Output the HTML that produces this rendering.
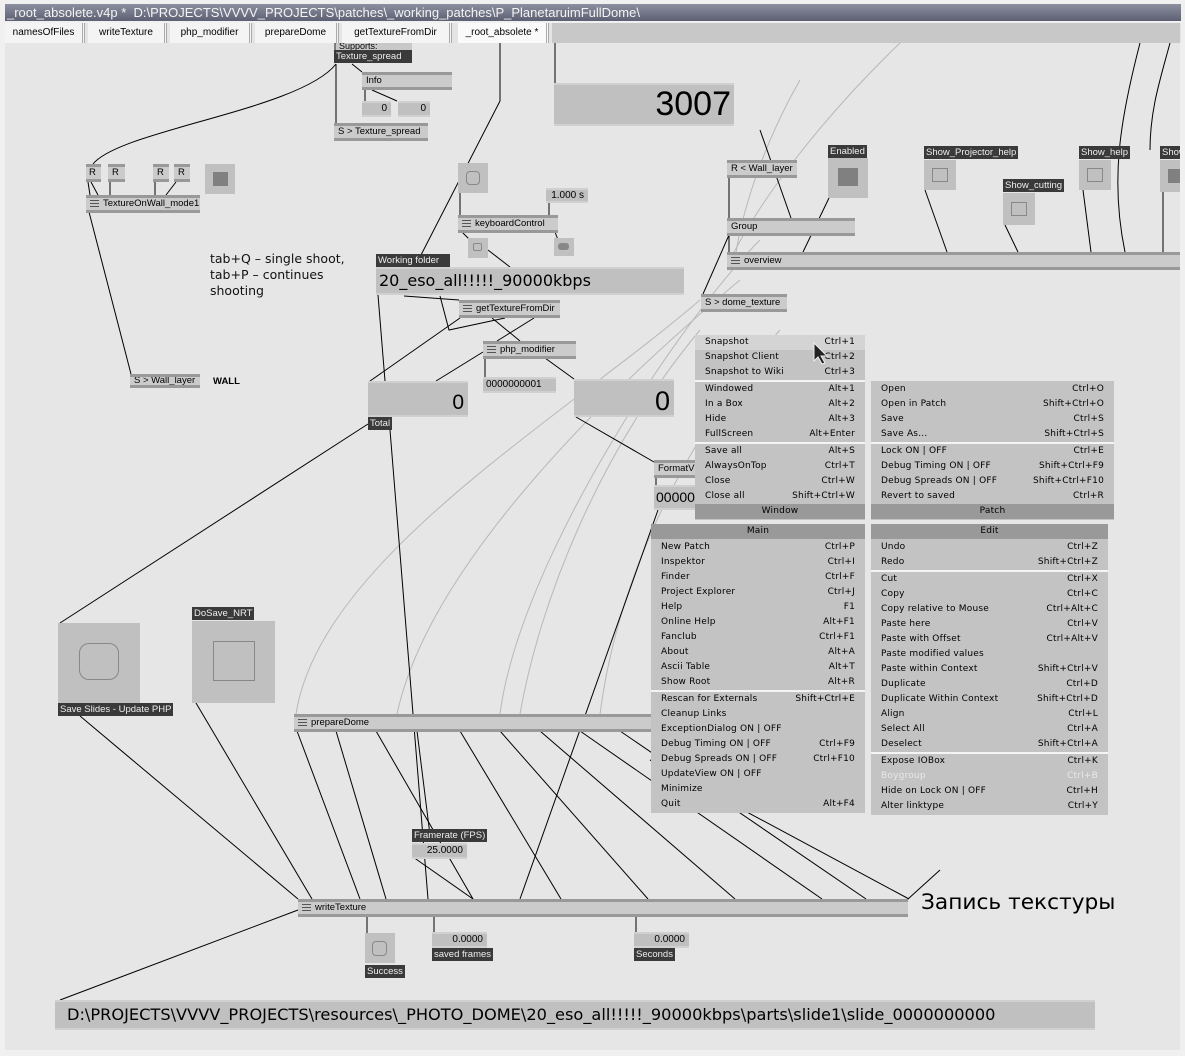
<!DOCTYPE html>
<html><head><meta charset="utf-8">
<style>
*{margin:0;padding:0;box-sizing:border-box}
body{width:1185px;height:1056px;background:#f0f0f0;position:relative;overflow:hidden;font-family:"Liberation Sans","DejaVu Sans",sans-serif;font-size:10px;color:#000}
.a{position:absolute}
#title{left:5px;top:4px;width:1176px;height:17px;background:linear-gradient(#8c8fa0,#5d6072);color:#f4f4f4;font-size:13px;line-height:17px;padding-left:2px;white-space:nowrap}
#tabs{left:5px;top:23px;width:1176px;height:20px;background:#e4e4e4}
.tab{position:absolute;top:23px;height:20px;background:#f4f4f4;font-size:10px;line-height:20px;text-align:center;border-right:3px double #aaa}
#patch{left:5px;top:43px;width:1175px;height:1007px;background:#e6e6e6}
.n{position:absolute;background:#cbcbcb;border-top:3px solid #999;border-bottom:3px solid #999;font-size:9.5px;line-height:11px;padding-left:4px;white-space:nowrap;overflow:hidden}
.n.ic{padding-left:17px}
.n.ic:before{content:"";position:absolute;left:4px;top:2px;width:9px;height:7px;background:linear-gradient(#555 0,#555 1px,transparent 1px,transparent 3px,#555 3px,#555 4px,transparent 4px,transparent 6px,#555 6px,#555 7px)}
.io{position:absolute;background:#c0c0c0;border-top:2px solid #d0d0d0;border-bottom:2px solid #d0d0d0;text-align:right;padding-right:4px;white-space:nowrap;overflow:hidden}
.lb{position:absolute;background:#3a3a3a;color:#eee;font-size:9.5px;line-height:13px;height:13px;padding:0 2px;white-space:nowrap}
.sq{position:absolute;background:#c0c0c0}
.menu{position:absolute;background:#c3c3c3;font-family:"DejaVu Sans",sans-serif;font-size:9px;letter-spacing:.2px}
.r{position:absolute;left:0;right:0;height:15px;line-height:15px;padding:0 10px}
.r span{float:right}
.hd{position:absolute;left:0;right:0;height:15px;line-height:15px;background:#999;text-align:center}
.sep{position:absolute;left:0;right:0;height:2px;background:#f4f4f4}
</style></head><body>
<div id="title" class="a">_root_absolete.v4p *&nbsp; D:\PROJECTS\VVVV_PROJECTS\patches\_working_patches\P_PlanetaruimFullDome\</div>
<div id="tabs" class="a"></div>
<div class="tab" style="left:5px;width:80px">namesOfFiles</div>
<div class="tab" style="left:88px;width:79px">writeTexture</div>
<div class="tab" style="left:170px;width:82px">php_modifier</div>
<div class="tab" style="left:255px;width:84px">prepareDome</div>
<div class="tab" style="left:342px;width:110px">getTextureFromDir</div>
<div class="tab" style="left:458px;width:91px;background:#fafafa">_root_absolete *</div>
<div class="a" style="left:552px;top:23px;width:628px;height:20px;background:#c8c8c8"></div>
<div id="patch" class="a"></div>

<svg class="a" style="left:0;top:0" width="1185" height="1056">
<g fill="none" stroke="#b8b8b8" stroke-width="1">
<path d="M700 300 C560 420 320 560 296 714"/>
<path d="M740 280 C620 380 430 560 397 714"/>
<path d="M760 240 C680 320 520 560 500 714"/>
<path d="M900 43 C820 120 760 200 730 260"/>
<path d="M800 80 C760 150 740 220 735 260"/>
<path d="M700 330 C600 450 540 600 520 714"/>
<path d="M780 330 C700 420 620 560 600 714"/>
</g>
<g fill="none" stroke="#000" stroke-width="1">
<path d="M336 64 C300 110 120 130 93 164"/>
<path d="M336 64 L336 123"/><path d="M352 64 L362 72"/>
<path d="M365 90 L365 101"/><path d="M372 90 L397 101"/>
<path d="M88 182 L90 195"/><path d="M91 182 L98 195"/><path d="M110 182 L110 195"/><path d="M155 182 L155 195"/><path d="M176 182 L166 195"/>
<path d="M89 212 L131 374"/>
<path d="M500 43 L500 101 L421 255"/>
<path d="M555 43 L555 83"/>
<path d="M460 190 L460 215"/><path d="M549 203 L549 215"/>
<path d="M462 232 L470 240"/><path d="M555 232 L558 240"/>
<path d="M488 250 L510 267"/>
<path d="M378 295 L385 381"/>
<path d="M404 296 L459 300"/>
<path d="M440 296 L449 330 L505 318"/>
<path d="M460 318 L370 381"/>
<path d="M534 318 L497 341"/>
<path d="M492 318 L520 341"/>
<path d="M483 352 L436 381"/>
<path d="M485 358 L485 377"/>
<path d="M545 358 L574 379"/>
<path d="M576 417 L654 462"/>
<path d="M656 477 L656 487"/>
<path d="M658 510 L520 899"/>
<path d="M368 424 L60 623"/>
<path d="M390 430 L428 899"/>
<path d="M80 716 L298 899"/>
<path d="M196 703 L312 899"/>
<path d="M297 731 L360 899"/>
<path d="M336 731 L386 899"/>
<path d="M376 731 L473 899"/>
<path d="M417 731 L430 835"/>
<path d="M460 731 L561 899"/>
<path d="M500 731 L648 899"/>
<path d="M540 731 L735 899"/>
<path d="M580 731 L822 899"/>
<path d="M620 731 L866 899"/>
<path d="M650 760 L909 899"/>
<path d="M413 857 L473 899"/>
<path d="M298 910 L60 1000"/>
<path d="M908 899 L940 870"/>
<path d="M367 915 L367 933"/><path d="M434 915 L434 932"/><path d="M636 915 L636 932"/>
<path d="M760 130 L791 218"/>
<path d="M729 177 L729 218"/>
<path d="M829 198 L803 252"/>
<path d="M925 190 L947 252"/>
<path d="M1005 225 L1018 252"/>
<path d="M1083 190 L1091 252"/>
<path d="M1140 43 C1120 120 1110 180 1125 252"/>
<path d="M1163 190 L1163 252"/>
<path d="M729 235 L729 252"/><path d="M729 235 L703 294"/>
<path d="M1170 43 C1160 80 1150 110 1150 150"/>
</g>
</svg>

<div class="a" style="left:334px;top:43px;width:78px;height:8px;background:#c8c8c8;font-size:9px;line-height:6px;overflow:hidden">[ Supports:</div>
<div class="lb" style="left:334px;top:50px;width:78px">Texture_spread</div>
<div class="n" style="left:362px;top:72px;width:90px;height:18px">Info</div>
<div class="io" style="left:362px;top:101px;width:29px;height:16px;line-height:12px">0</div>
<div class="io" style="left:398px;top:101px;width:32px;height:16px;line-height:12px">0</div>
<div class="n" style="left:334px;top:123px;width:94px;height:18px">S &gt; Texture_spread</div>
<div class="io" style="left:554px;top:83px;width:180px;height:43px;font-size:34px;line-height:38px;padding-right:3px">3007</div>

<div class="n" style="left:86px;top:164px;width:15px;height:18px;padding-left:3px">R</div>
<div class="n" style="left:108px;top:164px;width:17px;height:18px;padding-left:4px">R</div>
<div class="n" style="left:153px;top:164px;width:16px;height:18px;padding-left:4px">R</div>
<div class="n" style="left:174px;top:164px;width:16px;height:18px;padding-left:4px">R</div>
<div class="sq" style="left:205px;top:164px;width:30px;height:30px"><div class="a" style="left:8px;top:8px;width:15px;height:14px;background:#808080"></div></div>
<div class="n ic" style="left:86px;top:195px;width:114px;height:18px">TextureOnWall_mode1</div>
<div class="a" style="left:210px;top:251px;font-family:'DejaVu Sans',sans-serif;font-size:12.5px;line-height:16px;color:#111">tab+Q – single shoot,<br>tab+P – continues<br>shooting</div>
<div class="n" style="left:130px;top:374px;width:70px;height:14px;line-height:8px">S &gt; Wall_layer</div>
<div class="a" style="left:213px;top:376px;font-size:9.5px;font-weight:bold">WALL</div>

<div class="sq" style="left:458px;top:163px;width:30px;height:30px"><div class="a" style="left:8px;top:8px;width:14px;height:14px;border:1px solid #888;border-radius:4px"></div></div>
<div class="io" style="left:546px;top:188px;width:42px;height:15px;line-height:11px">1.000 s</div>
<div class="n ic" style="left:458px;top:215px;width:100px;height:18px">keyboardControl</div>
<div class="sq" style="left:468px;top:238px;width:20px;height:20px"><div class="a" style="left:5px;top:5px;width:9px;height:8px;border:1px solid #888;border-radius:2px"></div></div>
<div class="sq" style="left:554px;top:238px;width:20px;height:18px"><div class="a" style="left:4px;top:5px;width:11px;height:7px;background:#888;border-radius:3px"></div></div>
<div class="lb" style="left:376px;top:254px;width:74px">Working folder</div>
<div class="io" style="left:376px;top:267px;width:308px;height:28px;text-align:left;padding-left:3px;font-family:'DejaVu Sans',sans-serif;font-size:16px;line-height:23px">20_eso_all!!!!!_90000kbps</div>
<div class="n ic" style="left:459px;top:300px;width:101px;height:18px">getTextureFromDir</div>
<div class="n ic" style="left:483px;top:341px;width:93px;height:18px">php_modifier</div>
<div class="io" style="left:483px;top:377px;width:73px;height:16px;line-height:12px;text-align:left;padding-left:3px">0000000001</div>
<div class="io" style="left:368px;top:381px;width:100px;height:36px;font-size:21px;line-height:40px">0</div>
<div class="lb" style="left:368px;top:417px">Total</div>
<div class="io" style="left:574px;top:379px;width:100px;height:38px;font-size:27px;line-height:40px">0</div>
<div class="n" style="left:654px;top:460px;width:42px;height:18px">FormatV</div>
<div class="io" style="left:654px;top:485px;width:42px;height:25px;text-align:left;padding-left:2px;font-size:14px;line-height:21px">00000</div>

<div class="n" style="left:727px;top:160px;width:70px;height:18px">R &lt; Wall_layer</div>
<div class="lb" style="left:828px;top:145px">Enabled</div>
<div class="sq" style="left:828px;top:158px;width:40px;height:40px"><div class="a" style="left:10px;top:10px;width:20px;height:18px;background:#808080"></div></div>
<div class="n" style="left:727px;top:218px;width:128px;height:18px">Group</div>
<div class="n ic" style="left:727px;top:252px;width:453px;height:18px">overview</div>
<div class="n" style="left:701px;top:294px;width:86px;height:18px">S &gt; dome_texture</div>
<div class="lb" style="left:924px;top:146px">Show_Projector_help</div>
<div class="sq" style="left:924px;top:160px;width:32px;height:30px"><div class="a" style="left:8px;top:8px;width:16px;height:14px;border:1px solid #888"></div></div>
<div class="lb" style="left:1003px;top:179px">Show_cutting</div>
<div class="sq" style="left:1003px;top:193px;width:32px;height:32px"><div class="a" style="left:8px;top:9px;width:16px;height:14px;border:1px solid #888"></div></div>
<div class="lb" style="left:1079px;top:146px">Show_help</div>
<div class="sq" style="left:1079px;top:160px;width:32px;height:30px"><div class="a" style="left:8px;top:8px;width:16px;height:14px;border:1px solid #888"></div></div>
<div class="lb" style="left:1160px;top:146px;width:20px;overflow:hidden">Show</div>
<div class="sq" style="left:1160px;top:160px;width:20px;height:32px"><div class="a" style="left:8px;top:9px;width:12px;height:14px;background:#808080"></div></div>

<div class="sq" style="left:58px;top:623px;width:82px;height:80px"><div class="a" style="left:21px;top:20px;width:40px;height:37px;border:1px solid #888;border-radius:10px"></div></div>
<div class="lb" style="left:58px;top:703px">Save Slides - Update PHP</div>
<div class="lb" style="left:192px;top:607px">DoSave_NRT</div>
<div class="sq" style="left:192px;top:621px;width:83px;height:82px"><div class="a" style="left:21px;top:20px;width:42px;height:40px;border:1px solid #888"></div></div>
<div class="n ic" style="left:294px;top:714px;width:357px;height:18px">prepareDome</div>
<div class="lb" style="left:412px;top:829px">Framerate (FPS)</div>
<div class="io" style="left:412px;top:843px;width:55px;height:16px;line-height:12px">25.0000</div>
<div class="n ic" style="left:298px;top:899px;width:610px;height:18px">writeTexture</div>
<div class="a" style="left:921px;top:890px;font-family:'DejaVu Sans',sans-serif;font-size:21.7px">Запись текстуры</div>
<div class="sq" style="left:365px;top:933px;width:30px;height:30px"><div class="a" style="left:7px;top:8px;width:15px;height:15px;border:1px solid #888;border-radius:4px"></div></div>
<div class="lb" style="left:365px;top:965px">Success</div>
<div class="io" style="left:432px;top:932px;width:55px;height:16px;line-height:12px">0.0000</div>
<div class="lb" style="left:432px;top:948px">saved frames</div>
<div class="io" style="left:634px;top:932px;width:55px;height:16px;line-height:12px">0.0000</div>
<div class="lb" style="left:634px;top:948px">Seconds</div>
<div class="io" style="left:55px;top:1000px;width:1040px;height:30px;text-align:left;padding-left:12px;font-family:'DejaVu Sans',sans-serif;font-size:16.2px;line-height:25px">D:\PROJECTS\VVVV_PROJECTS\resources\_PHOTO_DOME\20_eso_all!!!!!_90000kbps\parts\slide1\slide_0000000000</div>

<div class="menu" style="left:695px;top:335px;width:170px;height:185px">
<div class="r" style="top:0;background:#d4d4d4">Snapshot<span>Ctrl+1</span></div>
<div class="r" style="top:15px">Snapshot Client<span>Ctrl+2</span></div>
<div class="r" style="top:30px">Snapshot to Wiki<span>Ctrl+3</span></div>
<div class="sep" style="top:45px"></div>
<div class="r" style="top:47px">Windowed<span>Alt+1</span></div>
<div class="r" style="top:62px">In a Box<span>Alt+2</span></div>
<div class="r" style="top:77px">Hide<span>Alt+3</span></div>
<div class="r" style="top:92px">FullScreen<span>Alt+Enter</span></div>
<div class="sep" style="top:107px"></div>
<div class="r" style="top:109px">Save all<span>Alt+S</span></div>
<div class="r" style="top:124px">AlwaysOnTop<span>Ctrl+T</span></div>
<div class="r" style="top:139px">Close<span>Ctrl+W</span></div>
<div class="r" style="top:154px">Close all<span>Shift+Ctrl+W</span></div>
<div class="hd" style="top:169px">Window</div>
</div>
<svg class="a" style="left:813px;top:342px" width="16" height="24"><path d="M1 1 L1 19 L5 15 L9 22 L12 21 L8 14 L14 14 Z" fill="#222" stroke="#eee" stroke-width="1"/></svg>
<div class="menu" style="left:871px;top:381px;width:243px;height:139px">
<div class="r" style="top:1px">Open<span>Ctrl+O</span></div>
<div class="r" style="top:16px">Open in Patch<span>Shift+Ctrl+O</span></div>
<div class="r" style="top:31px">Save<span>Ctrl+S</span></div>
<div class="r" style="top:46px">Save As...<span>Shift+Ctrl+S</span></div>
<div class="sep" style="top:61px"></div>
<div class="r" style="top:63px">Lock ON | OFF<span>Ctrl+E</span></div>
<div class="r" style="top:78px">Debug Timing ON | OFF<span>Shift+Ctrl+F9</span></div>
<div class="r" style="top:93px">Debug Spreads ON | OFF<span>Shift+Ctrl+F10</span></div>
<div class="r" style="top:108px">Revert to saved<span>Ctrl+R</span></div>
<div class="hd" style="top:123px">Patch</div>
</div>
<div class="menu" style="left:651px;top:524px;width:214px;height:289px">
<div class="hd" style="top:0">Main</div>
<div class="r" style="top:16px">New Patch<span>Ctrl+P</span></div>
<div class="r" style="top:31px">Inspektor<span>Ctrl+I</span></div>
<div class="r" style="top:46px">Finder<span>Ctrl+F</span></div>
<div class="r" style="top:61px">Project Explorer<span>Ctrl+J</span></div>
<div class="r" style="top:76px">Help<span>F1</span></div>
<div class="r" style="top:91px">Online Help<span>Alt+F1</span></div>
<div class="r" style="top:106px">Fanclub<span>Ctrl+F1</span></div>
<div class="r" style="top:121px">About<span>Alt+A</span></div>
<div class="r" style="top:136px">Ascii Table<span>Alt+T</span></div>
<div class="r" style="top:151px">Show Root<span>Alt+R</span></div>
<div class="sep" style="top:166px"></div>
<div class="r" style="top:168px">Rescan for Externals<span>Shift+Ctrl+E</span></div>
<div class="r" style="top:183px">Cleanup Links</div>
<div class="r" style="top:198px">ExceptionDialog ON | OFF</div>
<div class="r" style="top:213px">Debug Timing ON | OFF<span>Ctrl+F9</span></div>
<div class="r" style="top:228px">Debug Spreads ON | OFF<span>Ctrl+F10</span></div>
<div class="r" style="top:243px">UpdateView ON | OFF</div>
<div class="r" style="top:258px">Minimize</div>
<div class="r" style="top:273px">Quit<span>Alt+F4</span></div>
</div>
<div class="menu" style="left:871px;top:524px;width:237px;height:291px">
<div class="hd" style="top:0">Edit</div>
<div class="r" style="top:16px">Undo<span>Ctrl+Z</span></div>
<div class="r" style="top:31px">Redo<span>Shift+Ctrl+Z</span></div>
<div class="sep" style="top:46px"></div>
<div class="r" style="top:48px">Cut<span>Ctrl+X</span></div>
<div class="r" style="top:63px">Copy<span>Ctrl+C</span></div>
<div class="r" style="top:78px">Copy relative to Mouse<span>Ctrl+Alt+C</span></div>
<div class="r" style="top:93px">Paste here<span>Ctrl+V</span></div>
<div class="r" style="top:108px">Paste with Offset<span>Ctrl+Alt+V</span></div>
<div class="r" style="top:123px">Paste modified values</div>
<div class="r" style="top:138px">Paste within Context<span>Shift+Ctrl+V</span></div>
<div class="r" style="top:153px">Duplicate<span>Ctrl+D</span></div>
<div class="r" style="top:168px">Duplicate Within Context<span>Shift+Ctrl+D</span></div>
<div class="r" style="top:183px">Align<span>Ctrl+L</span></div>
<div class="r" style="top:198px">Select All<span>Ctrl+A</span></div>
<div class="r" style="top:213px">Deselect<span>Shift+Ctrl+A</span></div>
<div class="sep" style="top:228px"></div>
<div class="r" style="top:230px">Expose IOBox<span>Ctrl+K</span></div>
<div class="r" style="top:245px;color:#e8e8e8">Boygroup<span>Ctrl+B</span></div>
<div class="r" style="top:260px">Hide on Lock ON | OFF<span>Ctrl+H</span></div>
<div class="r" style="top:275px">Alter linktype<span>Ctrl+Y</span></div>
</div>
</body></html>
